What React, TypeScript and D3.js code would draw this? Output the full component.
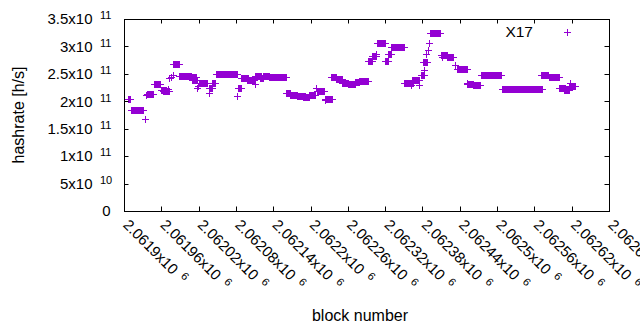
import * as d3 from 'd3';

// runs of consecutive blocks sharing one hashrate estimate (start == end is a single block)
const runStart = [
  2061906, 2061912, 2061933, 2061936, 2061937, 2061948, 2061959, 2061962, 2061971, 2061973,
  2061975, 2061978, 2061979, 2061989, 2062006, 2062009, 2062017, 2062019, 2062020, 2062036,
  2062037, 2062041, 2062048, 2062082, 2062083, 2062088, 2062098, 2062110, 2062111, 2062119,
  2062123, 2062133, 2062161, 2062167, 2062178, 2062188, 2062197, 2062209, 2062210, 2062223,
  2062223, 2062233, 2062241, 2062250, 2062260, 2062271, 2062278, 2062292, 2062299, 2062305,
  2062307, 2062320, 2062324, 2062330, 2062350, 2062362, 2062363, 2062375, 2062377, 2062382,
  2062381, 2062386, 2062389, 2062391, 2062392, 2062411, 2062410, 2062420, 2062432, 2062435,
  2062451, 2062452, 2062462, 2062474, 2062508, 2062571, 2062583, 2062600, 2062607, 2062615,
  2062618,
];
const runEnd = [
  2061909, 2061930, 2061933, 2061936, 2061947, 2061958, 2061968, 2061972, 2061971, 2061973,
  2061975, 2061978, 2061988, 2062008, 2062015, 2062018, 2062017, 2062019, 2062034, 2062036,
  2062042, 2062047, 2062081, 2062082, 2062088, 2062099, 2062109, 2062110, 2062120, 2062123,
  2062133, 2062160, 2062167, 2062178, 2062191, 2062197, 2062207, 2062209, 2062222, 2062223,
  2062235, 2062241, 2062250, 2062260, 2062271, 2062278, 2062293, 2062299, 2062305, 2062305,
  2062319, 2062325, 2062330, 2062351, 2062365, 2062362, 2062374, 2062375, 2062383, 2062382,
  2062387, 2062386, 2062389, 2062391, 2062408, 2062411, 2062420, 2062429, 2062432, 2062452,
  2062451, 2062462, 2062473, 2062507, 2062572, 2062582, 2062599, 2062609, 2062615, 2062626,
  2062618,
];
const runHashrate = [
  2.04e11, 1.835e11, 1.67e11, 2.11e11, 2.14e11, 2.31e11, 2.2e11, 2.18e11, 2.23e11, 2.42e11,
  2.45e11, 2.48e11, 2.685e11, 2.47e11, 2.44e11, 2.39e11, 2.24e11, 2.28e11, 2.33e11, 2.16e11,
  2.25e11, 2.33e11, 2.5e11, 2.09e11, 2.24e11, 2.42e11, 2.38e11, 2.32e11, 2.455e11, 2.42e11,
  2.455e11, 2.437e11, 2.145e11, 2.11e11, 2.1e11, 2.08e11, 2.11e11, 2.24e11, 2.19e11, 2.02e11,
  2.05e11, 2.45e11, 2.4e11, 2.34e11, 2.315e11, 2.36e11, 2.364e11, 2.74e11, 2.825e11, 2.86e11,
  3.057e11, 2.73e11, 2.853e11, 2.995e11, 2.34e11, 2.3e11, 2.384e11, 2.29e11, 2.48e11, 2.575e11,
  2.71e11, 2.86e11, 2.93e11, 3.057e11, 3.24e11, 2.8e11, 2.85e11, 2.816e11, 2.67e11, 2.583e11,
  2.34e11, 2.315e11, 2.29e11, 2.473e11, 2.23e11, 2.473e11, 2.437e11, 2.25e11, 2.2e11, 2.28e11,
  2.33e11,
];

const xTickValues = [
  2061900, 2061960, 2062020, 2062080, 2062140, 2062200, 2062260,
  2062320, 2062380, 2062440, 2062500, 2062560, 2062620, 2062680,
];
const xTickMantissa = [
  '2.0619', '2.06196', '2.06202', '2.06208', '2.06214', '2.0622', '2.06226',
  '2.06232', '2.06238', '2.06244', '2.0625', '2.06256', '2.06262', '2.06268',
];
const yTickValues = [0, 5e10, 1e11, 1.5e11, 2e11, 2.5e11, 3e11, 3.5e11];
const yTickMantissa = ['0', '5', '1', '1.5', '2', '2.5', '3', '3.5'];
const yTickExponent = ['', '10', '11', '11', '11', '11', '11', '11'];

const seriesName = 'X17';

const width = 640;
const height = 330;
const left = 124;
const right = 609;
const top = 19;
const bottom = 211;
const purple = '#9400d3';
const font = '"Liberation Sans", Arial, sans-serif';
const arm = 3;

export default function App() {
  const x = d3.scaleLinear().domain([xTickValues[0], xTickValues[xTickValues.length - 1]]).range([left, right]);
  const y = d3.scaleLinear().domain([0, 3.5e11]).range([bottom, top]);

  return (
    <svg width={width} height={height} style={{ position: 'absolute', left: 0, top: 0, background: '#fff' }} fontFamily={font}>
      <rect width={width} height={height} fill="#fff" />

      {/* points: a run of equal estimates makes a filled bar of overlapping crosses */}
      <g fill={purple}>
        {runStart.map((s, i) => {
          const x0 = Math.round(x(s));
          const x1 = Math.round(x(runEnd[i]));
          const yc = Math.round(y(runHashrate[i]));
          return (
            <g key={i}>
              <rect x={x0} y={yc - arm} width={x1 - x0 + 1} height={arm * 2 + 1} />
              <rect x={x0 - arm} y={yc} width={x1 - x0 + arm * 2 + 1} height={1} />
            </g>
          );
        })}
      </g>

      {/* frame and ticks */}
      <rect x={left + 0.5} y={top + 0.5} width={right - left} height={bottom - top} fill="none" stroke="#000" />
      <g stroke="#000">
        {xTickValues.map((t) => {
          const px = Math.round(x(t)) + 0.5;
          return (
            <g key={t}>
              <line x1={px} x2={px} y1={bottom} y2={bottom - 4.5} />
              <line x1={px} x2={px} y1={top} y2={top + 4.5} />
            </g>
          );
        })}
        {yTickValues.map((t) => {
          const py = Math.round(y(t)) + 0.5;
          return (
            <g key={t}>
              <line x1={left} x2={left + 4.5} y1={py} y2={py} />
              <line x1={right} x2={right - 4.5} y1={py} y2={py} />
            </g>
          );
        })}
      </g>

      {/* y tick labels */}
      <g fontSize={15} fill="#000">
        {yTickValues.map((t, i) =>
          yTickExponent[i] ? (
            <g key={t}>
              <text x={92.5} y={y(t) + 5.3} textAnchor="end">{`${yTickMantissa[i]}x10`}</text>
              <text x={100} y={y(t) + 0.3} fontSize={11}>{yTickExponent[i]}</text>
            </g>
          ) : (
            <text key={t} x={110.5} y={y(t) + 5.3} textAnchor="end">{yTickMantissa[i]}</text>
          )
        )}
      </g>

      {/* x tick labels, rotated */}
      <g fontSize={15} fill="#000">
        {xTickValues.map((t, i) => (
          <text key={t} transform={`translate(${x(t) + 2},${bottom + 11}) rotate(45)`} dy={5.3}>
            {`${xTickMantissa[i]}x10`}
            <tspan fontSize={11} dx={7} dy={-5}>6</tspan>
          </text>
        ))}
      </g>

      {/* axis titles */}
      <text transform={`translate(23.5,${(top + bottom) / 2}) rotate(-90)`} textAnchor="middle" fontSize={16}>
        hashrate [h/s]
      </text>
      <text x={360} y={320.5} textAnchor="middle" fontSize={16}>block number</text>

      {/* key */}
      <text x={533} y={37} textAnchor="end" fontSize={15.5}>{seriesName}</text>
      <g fill={purple}>
        <rect x={567} y={32 - arm} width={1} height={arm * 2 + 1} />
        <rect x={567 - arm} y={32} width={arm * 2 + 1} height={1} />
      </g>
    </svg>
  );
}
